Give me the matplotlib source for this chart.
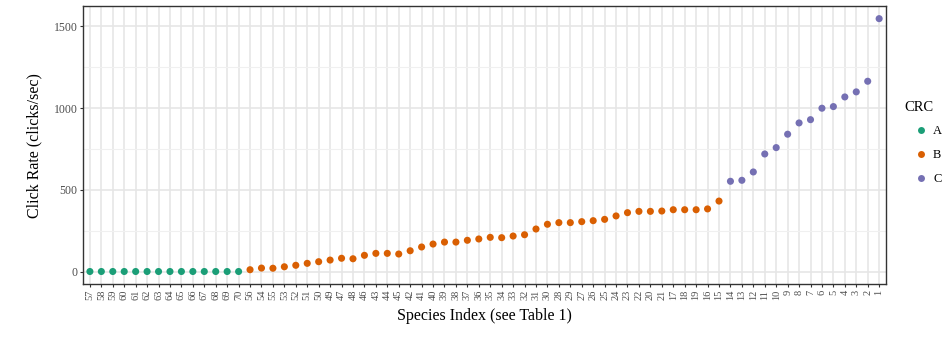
import matplotlib.pyplot as plt
from matplotlib.lines import Line2D

plt.rcParams['font.family'] = ['Liberation Serif', 'DejaVu Serif']

# species order along the x axis (sorted by click rate)
species_a = ['57', '58', '59', '60', '61', '62', '63', '64', '65', '66', '67', '68', '69', '70']
species_b = ['56', '54', '55', '53', '52', '51', '50', '49', '47', '48', '46', '43', '44', '45',
             '42', '41', '40', '39', '38', '37', '36', '35', '34', '33', '32', '31', '30', '28',
             '29', '27', '26', '25', '24', '23', '22', '20', '21', '17', '18', '19', '16', '15']
species_c = ['14', '13', '12', '11', '10', '9', '8', '7', '6', '5', '4', '3', '2', '1']

rate_a = [0, 0, 0, 0, 0, 0, 0, 0, 0, 0, 0, 0, 0, 0]
rate_b = [11, 21, 20, 29, 38, 50, 60, 70, 81, 78, 99, 111, 111, 107,
          127, 150, 168, 180, 180, 191, 199, 209, 207, 217, 225, 260, 289, 299,
          299, 305, 311, 319, 340, 360, 368, 368, 370, 378, 378, 378, 383, 431]
rate_c = [552, 558, 609, 719, 758, 840, 909, 929, 999, 1009, 1068, 1099, 1164, 1547]

groups = ['A', 'B', 'C']
colors = ['#1B9E77', '#D95F02', '#7570B3']

labels = species_a + species_b + species_c
fig = plt.figure(figsize=(9.48, 3.37), dpi=100)
ax = fig.add_axes([0.0876, 0.157, 0.847, 0.825])

start = 0
for names, rates, col in zip([species_a, species_b, species_c], [rate_a, rate_b, rate_c], colors):
    xs = list(range(start + 1, start + 1 + len(names)))
    ax.scatter(xs, rates, s=26, color=col, edgecolors='none', zorder=3)
    start += len(names)

n = len(labels)
ax.set_xlim(0.4, n + 0.6)
ax.set_ylim(-77, 1624)
ax.set_xticks(range(1, n + 1))
ax.set_xticklabels(labels, rotation=90, fontsize=7.5, color='#4d4d4d')
ax.set_yticks([0, 500, 1000, 1500])
ax.set_yticks([250, 750, 1250], minor=True)
ax.tick_params(axis='y', which='minor', length=0)
ax.tick_params(axis='both', which='major', length=2.5, width=0.8, color='#333333',
               pad=1.5, labelcolor='#4d4d4d')
ax.tick_params(axis='y', labelsize=8.5)

ax.grid(True, which='major', color='#e6e6e6', linewidth=1.2, zorder=0)
ax.grid(True, which='minor', axis='y', color='#f0f0f0', linewidth=0.8, zorder=0)
ax.set_axisbelow(True)
for sp in ax.spines.values():
    sp.set_color('#333333')
    sp.set_linewidth(1.0)

ax.set_xlabel('Species Index (see Table 1)', fontsize=11.5, labelpad=6)
ax.set_ylabel('Click Rate (clicks/sec)', fontsize=11.5, labelpad=8)

handles = [Line2D([], [], marker='o', linestyle='none', markersize=5,
                  markerfacecolor=c, markeredgecolor='none') for c in colors]
fig.legend(handles, groups, title='CRC', loc='upper left', bbox_to_anchor=(0.942, 0.735),
           frameon=False, fontsize=9, title_fontsize=10.5, handletextpad=-0.3,
           labelspacing=0.95, handlelength=2.6, alignment='left')

fig.savefig('out.png', dpi=100)
